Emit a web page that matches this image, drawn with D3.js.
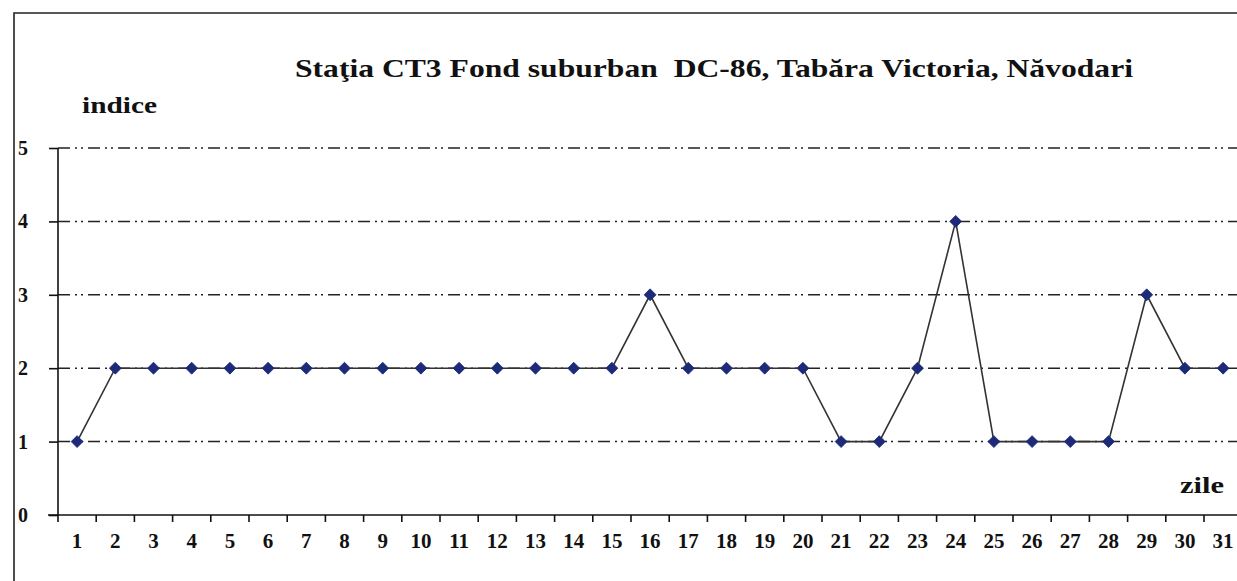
<!DOCTYPE html>
<html>
<head>
<meta charset="utf-8">
<script src="https://cdn.jsdelivr.net/npm/d3@7"></script>
<style>
  html, body { margin: 0; padding: 0; background: #fff; overflow: hidden; }
  svg text { font-family: "Liberation Serif", "Times New Roman", serif; font-weight: bold; fill: #111; }
</style>
</head>
<body>
<svg id="chart" width="1237" height="581"></svg>
<script>
// zile (days of month) and indice values
var days = d3.range(1, 32);
var indice = [1, 2, 2, 2, 2, 2, 2, 2, 2, 2, 2, 2, 2, 2, 2, 3, 2, 2, 2, 2, 1, 1, 2, 4, 1, 1, 1, 1, 3, 2, 2];
var yTicks = [0, 1, 2, 3, 4, 5];
var titleText = "Staţia CT3 Fond suburban  DC-86, Tabăra Victoria, Năvodari";

var svg = d3.select("#chart");

// outer frame of the scanned chart (right/bottom edges are cut off)
svg.append("path")
    .attr("d", "M14,600 L14,13 L1250,13")
    .attr("fill", "none")
    .attr("stroke", "#222")
    .attr("stroke-width", 1.6);

var margin = {left: 58, top: 148, bottom: 515};
var x = d3.scaleBand().domain(days).range([margin.left, margin.left + 31 * 38.2]);
var y = d3.scaleLinear().domain([0, 5]).range([margin.bottom, margin.top]);

// dash-dot gridlines
svg.append("g").selectAll("line")
    .data(yTicks.filter(function(d) { return d > 0; }))
  .enter().append("line")
    .attr("x1", margin.left)
    .attr("x2", 1237)
    .attr("y1", function(d) { return y(d); })
    .attr("y2", function(d) { return y(d); })
    .attr("stroke", "#222")
    .attr("stroke-width", 1.5)
    .attr("stroke-dasharray", "12,5,2,4,2,5");

// y axis
var yAxis = d3.axisLeft(y).tickValues(yTicks).tickSize(9).tickPadding(21).tickFormat(d3.format("d"));
var gy = svg.append("g")
    .attr("transform", "translate(" + margin.left + ",0)")
    .call(yAxis);
gy.select(".domain").attr("stroke", "#111").attr("stroke-width", 1.6).attr("d", "M0," + margin.top + "V" + margin.bottom);
gy.selectAll(".tick line").attr("stroke", "#111").attr("stroke-width", 1.6);
gy.selectAll("text").style("font-size", "20px").attr("dy", "0.32em");

// x axis, ticks between categories
var gx = svg.append("g")
    .attr("transform", "translate(0," + margin.bottom + ")");
gx.append("line")
    .attr("x1", margin.left - 10).attr("x2", 1237)
    .attr("stroke", "#111").attr("stroke-width", 1.6);
gx.selectAll(".xt")
    .data(days)
  .enter().append("line")
    .attr("class", "xt")
    .attr("x1", function(d) { return x(d); })
    .attr("x2", function(d) { return x(d); })
    .attr("y1", 0).attr("y2", 7)
    .attr("stroke", "#111").attr("stroke-width", 1.6);
gx.selectAll(".xl")
    .data(days)
  .enter().append("text")
    .attr("class", "xl")
    .attr("x", function(d) { return x(d) + x.bandwidth() / 2; })
    .attr("y", 33)
    .attr("text-anchor", "middle")
    .style("font-size", "21px")
    .text(function(d) { return d; });

// series line
var line = d3.line()
    .x(function(d, i) { return x(days[i]) + x.bandwidth() / 2; })
    .y(function(d) { return y(d); });
svg.append("path")
    .datum(indice)
    .attr("d", line)
    .attr("fill", "none")
    .attr("stroke", "#333")
    .attr("stroke-width", 1.6);

// diamond markers
svg.append("g").selectAll("path")
    .data(indice)
  .enter().append("path")
    .attr("transform", function(d, i) {
      return "translate(" + (x(days[i]) + x.bandwidth() / 2) + "," + y(d) + ") rotate(45)";
    })
    .attr("d", "M-4.2,-4.2H4.2V4.2H-4.2Z")
    .attr("fill", "#1c2a78")
    .attr("stroke", "#1c2a78")
    .attr("stroke-width", 0.8);

// title and axis labels
svg.append("text")
    .attr("x", 295)
    .attr("y", 77)
    .attr("textLength", 838)
    .attr("lengthAdjust", "spacingAndGlyphs")
    .style("font-size", "25px")
    .attr("xml:space", "preserve")
    .text(titleText);

svg.append("text")
    .attr("x", 82)
    .attr("y", 113)
    .attr("textLength", 75)
    .attr("lengthAdjust", "spacingAndGlyphs")
    .style("font-size", "24px")
    .text("indice");

svg.append("text")
    .attr("x", 1180)
    .attr("y", 493)
    .attr("textLength", 44)
    .attr("lengthAdjust", "spacingAndGlyphs")
    .style("font-size", "23px")
    .text("zile");
</script>
</body>
</html>
